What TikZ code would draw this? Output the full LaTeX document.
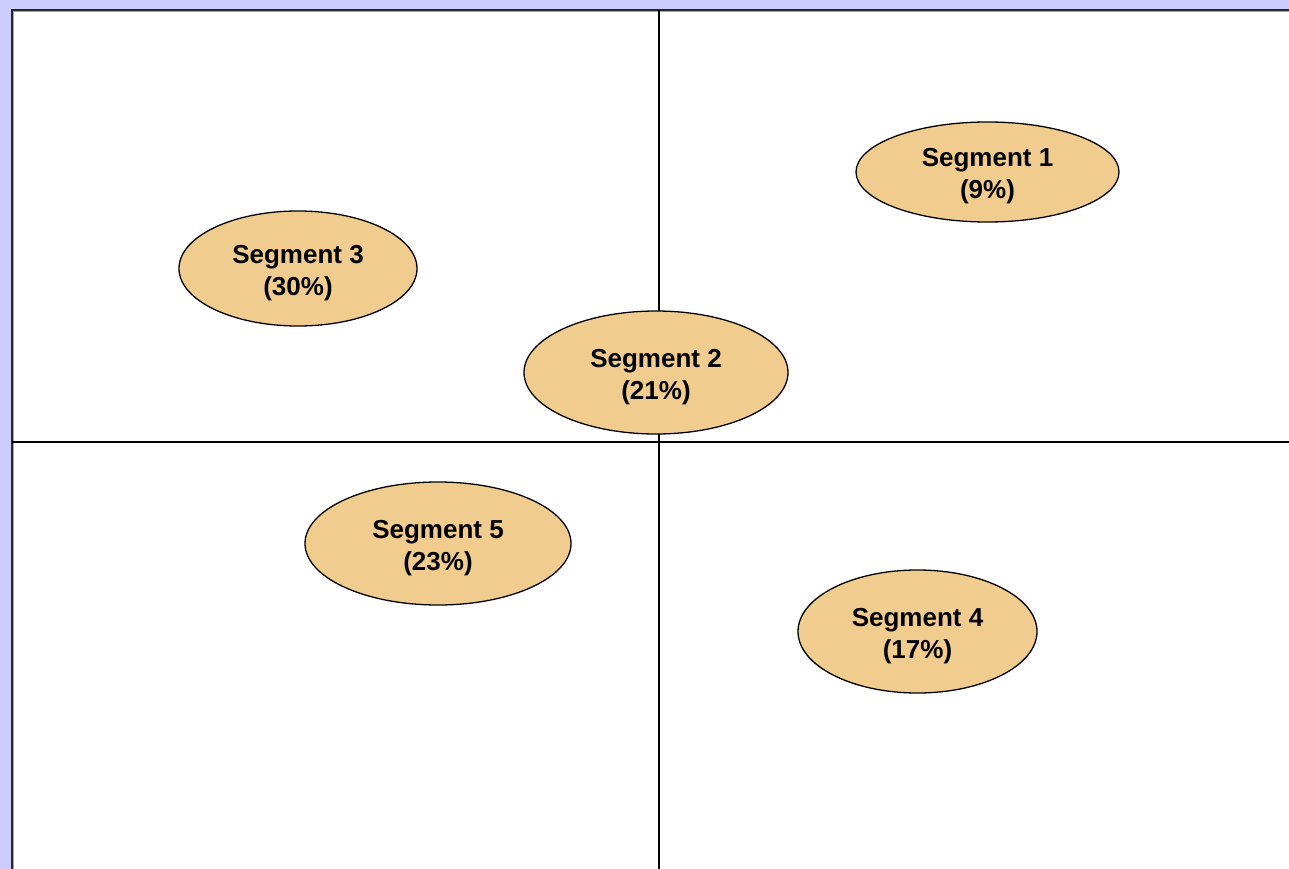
\documentclass[tikz,border=0pt]{standalone}
\usepackage{fontspec}
\setmainfont{Liberation Sans}
\usetikzlibrary{shapes.geometric}
\definecolor{bgblue}{HTML}{CCCCFF}
\definecolor{segfill}{HTML}{F0CC8E}
\tikzset{
  seg/.style={ellipse, draw=black, line width=1.3pt, fill=segfill, inner sep=0pt},
  segtext/.style={inner sep=0pt, font=\bfseries\fontsize{26}{32}\selectfont, align=center},
  axis/.style={draw=black, line width=1.3pt}
}
\begin{document}
\begin{tikzpicture}[x=1pt,y=-1pt]
\useasboundingbox (0,0) rectangle (1289,869);
\fill[bgblue] (0,0) rectangle (1289,869);
\fill[white] (11,9) rectangle (1289,869);
\draw[gray!70, line width=1.5pt] (13.5,869) -- (13.5,11.5) -- (1289,11.5);
\draw[black!85, line width=2pt] (12,869) -- (12,10) -- (1289,10);
\coordinate (vt) at (659,10);
\coordinate (vb) at (659,869);
\coordinate (hl) at (12,442);
\coordinate (hr) at (1289,442);
\draw[axis] (vt) -- (vb);
\draw[axis] (hl) -- (hr);
\node[seg, minimum width=263pt, minimum height=100pt] (s1) at (987.5,172) {};
\node[seg, minimum width=238pt, minimum height=115pt] (s3) at (298,268.5) {};
\node[seg, minimum width=264pt, minimum height=123pt] (s2) at (656,372.5) {};
\node[seg, minimum width=266pt, minimum height=123pt] (s5) at (438,543.5) {};
\node[seg, minimum width=239pt, minimum height=123pt] (s4) at (917.5,631.5) {};
\node[segtext] (t1) at ([yshift=-4.5pt]s1.center) {Segment 1\\(9\%)};
\node[segtext] (t3) at ([yshift=-4.5pt]s3.center) {Segment 3\\(30\%)};
\node[segtext] (t2) at ([yshift=-4.5pt]s2.center) {Segment 2\\(21\%)};
\node[segtext] (t5) at ([yshift=-4.5pt]s5.center) {Segment 5\\(23\%)};
\node[segtext] (t4) at ([yshift=-4.5pt]s4.center) {Segment 4\\(17\%)};
\end{tikzpicture}
\end{document}
